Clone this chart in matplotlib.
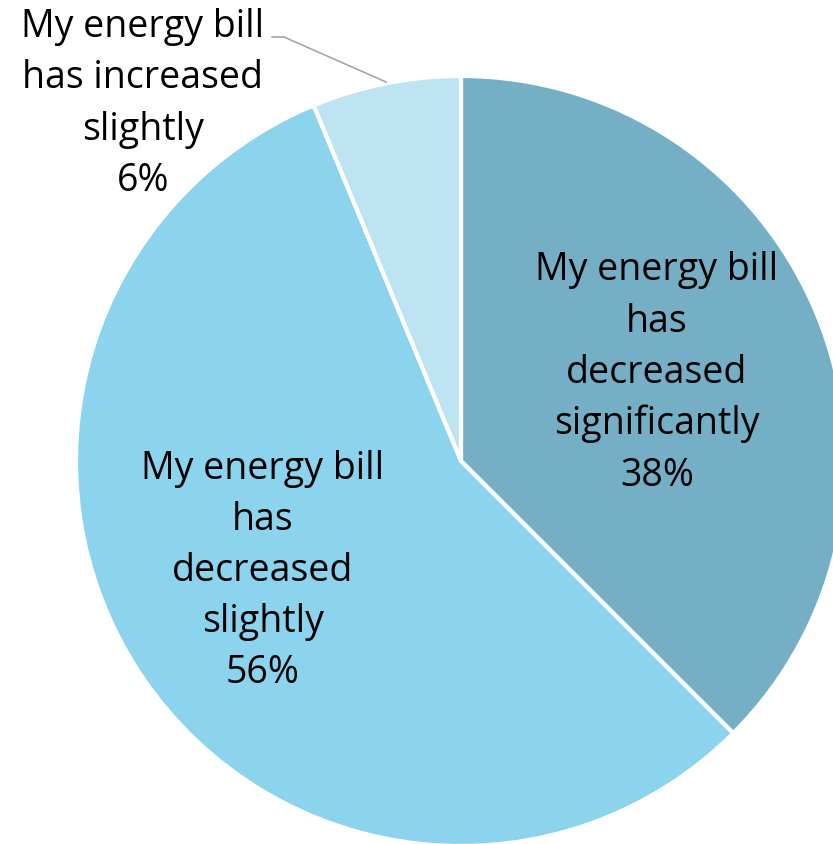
import numpy as np
import matplotlib.pyplot as plt

# answers: share of respondents (1/16 steps, shown rounded)
labels = ["My energy bill\nhas\ndecreased\nsignificantly",
          "My energy bill\nhas\ndecreased\nslightly",
          "My energy bill\nhas increased\nslightly"]
values = [37.5, 56.25, 6.25]
colors = ["#74AFC6", "#8CD3EE", "#BEE3F2"]

W, H = 833, 844
fig = plt.figure(figsize=(W / 100, H / 100), dpi=100)
ax = fig.add_axes([0, 0, 1, 1])

cx, cy, R = 461, H - 461, 385
wedges, _ = ax.pie(values, colors=colors, startangle=90, counterclock=False,
                   center=(cx, cy), radius=R, frame=True,
                   wedgeprops=dict(edgecolor="white", linewidth=3))
ax.set_xlim(0, W)
ax.set_ylim(0, H)
ax.set_aspect("equal")
ax.axis("off")

font = dict(family="Open Sans", fontsize=27, color="black",
            ha="center", va="center", linespacing=1.45)

# inside labels
ax.text(657, H - 373, f"{labels[0]}\n{values[0]:.0f}%", **font)
ax.text(263, H - 571, f"{labels[1]}\n{values[1]:.0f}%", **font)

# outside label with leader line
ax.text(143, H - 104, f"{labels[2]}\n{values[2]:.0f}%", **font)
ax.plot([272, 284, 386], [H - 37, H - 37, H - 82], color="#A6A6A6", lw=1.2)

fig.savefig("out.png", dpi=100)
